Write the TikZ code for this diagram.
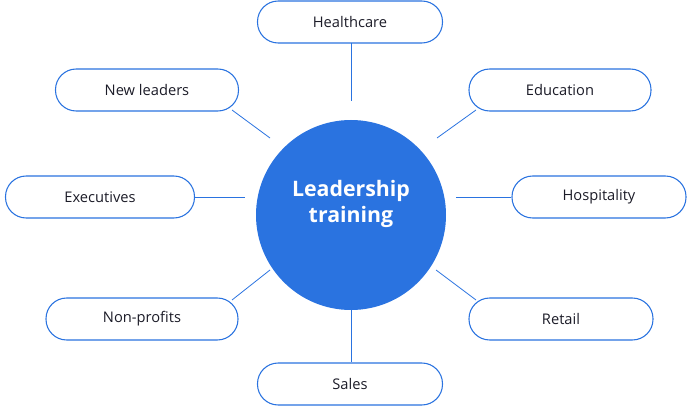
\documentclass[tikz,border=0pt]{standalone}
\usepackage{fontspec}
\setmainfont{Open Sans}
\definecolor{bl}{HTML}{2A73E0}
\definecolor{tx}{HTML}{1C1C28}
\begin{document}
\begin{tikzpicture}[x=0.75pt,y=-0.75pt,
  box/.style={draw=bl,line width=0.8pt,rounded corners=15.5pt,minimum height=31.5pt,fill=white,text=tx,font=\fontsize{11}{13}\selectfont,inner sep=0pt},
  con/.style={draw=bl,line width=0.6pt}]
\useasboundingbox (0,0) rectangle (700,406);
\node[circle,fill=bl,minimum size=142.5pt,inner sep=0pt] (c) at (351,215) {};
\node[text=white,font=\fontsize{16}{19}\selectfont\bfseries,align=center] (ct) at (351,204) {Leadership\\training};
\node[box,minimum width=138.75pt] (h) at (350,22) {Healthcare};
\node[box,minimum width=137.25pt] (n) at (147,90) {New leaders};
\node[box,minimum width=136.5pt] (e) at (560,90) {Education};
\node[box,minimum width=141.75pt] (x) at (100,197) {Executives};
\node[box,minimum width=130.5pt] (ho) at (599,197) {Hospitality};
\node[box,minimum width=144pt] (np) at (142,319) {Non-profits};
\node[box,minimum width=138pt] (r) at (561,319) {Retail};
\node[box,minimum width=138.75pt] (s) at (350,384) {Sales};
\coordinate (ch) at (351,101);
\coordinate (cn) at (270,138);
\coordinate (ce) at (437,138);
\coordinate (cx) at (245,197);
\coordinate (cho) at (456,197);
\coordinate (cnp) at (270,270);
\coordinate (cr) at (436,270);
\coordinate (cs) at (351,300);
\draw[con] (351,43) -- (ch);
\draw[con] (232,110) -- (cn);
\draw[con] (476,110) -- (ce);
\draw[con] (x.east) -- (cx);
\draw[con] (ho.west) -- (cho);
\draw[con] (232,300) -- (cnp);
\draw[con] (476,300) -- (cr);
\draw[con] (351,362) -- (cs);
\end{tikzpicture}
\end{document}
